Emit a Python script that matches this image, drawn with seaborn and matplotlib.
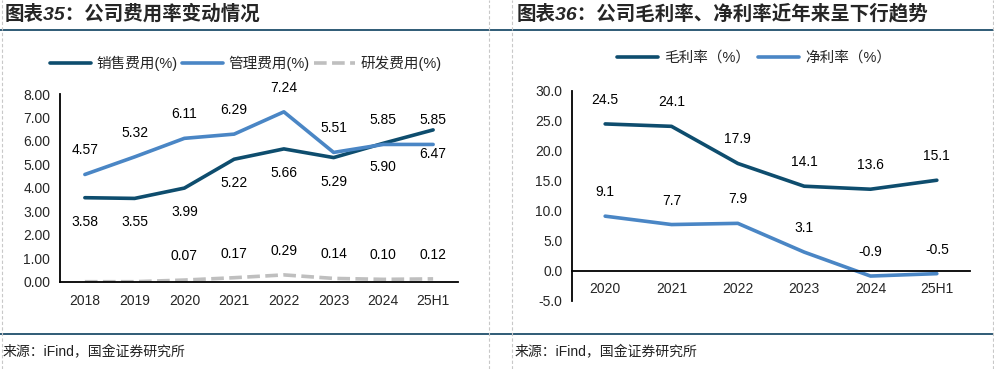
import numpy as np
import matplotlib
matplotlib.use("Agg")
import matplotlib.pyplot as plt
from matplotlib.lines import Line2D
import seaborn as sns

# ============ DATA ============
left_years = ["2018", "2019", "2020", "2021", "2022", "2023", "2024", "25H1"]
sales_exp = [3.58, 3.55, 3.99, 5.22, 5.66, 5.29, 5.90, 6.47]
admin_exp = [4.57, 5.32, 6.11, 6.29, 7.24, 5.51, 5.85, 5.85]
rd_exp = [0.00, 0.00, 0.07, 0.17, 0.29, 0.14, 0.10, 0.12]
rd_labeled = [False, False, True, True, True, True, True, True]

right_years = ["2020", "2021", "2022", "2023", "2024", "25H1"]
gross_margin = [24.5, 24.1, 17.9, 14.1, 13.6, 15.1]
net_margin = [9.1, 7.7, 7.9, 3.1, -0.9, -0.5]

# ============ STYLE ============
sns.set_style("white")
plt.rcParams["font.family"] = ["Liberation Sans", "Noto Sans CJK SC", "DejaVu Sans"]

NAVY = "#0E4D6E"
BLUE = "#4A86C5"
GREY = "#BFBFBF"
LINE_HDR = "#1F4E6B"

W, H = 994, 369
fig = plt.figure(figsize=(W / 100, H / 100), dpi=100)


def fx(px):
    return px / W


def fy(py):
    return 1 - py / H


def style_axis(ax, n, fmt):
    for s in ["top", "right"]:
        ax.spines[s].set_visible(False)
    for s in ["left", "bottom"]:
        ax.spines[s].set_color("black")
        ax.spines[s].set_linewidth(1.3)
    ax.set_xlim(-0.5, n - 0.5)
    ax.set_xticks(np.arange(n))
    ax.set_xticks(np.arange(0.5, n, 1), minor=True)
    ax.tick_params(axis="x", which="major", length=0, pad=9, labelsize=10)
    ax.tick_params(axis="x", which="minor", length=4, width=1.2, direction="in")
    ax.tick_params(axis="y", which="major", length=5, width=1.2, direction="in",
                   pad=7, labelsize=10)
    ax.yaxis.set_major_formatter(matplotlib.ticker.FormatStrFormatter(fmt))
    ax.set_xlabel("")
    ax.set_ylabel("")
    ax.grid(False)
    ax.set_facecolor("none")


def label_points(ax, values, fmt, dy, show=None):
    for i, v in enumerate(values):
        if show is not None and not show[i]:
            continue
        ax.annotate(fmt.format(v), (i, v), xytext=(0, dy), textcoords="offset pixels",
                    ha="center", va="center", fontsize=10, color="black")


# ============ LEFT CHART ============
ax1 = fig.add_axes([fx(60), fy(281.7), fx(398), (281.7 - 94) / H])
x1 = np.arange(len(left_years))
sns.lineplot(x=x1, y=sales_exp, ax=ax1, color=NAVY, linewidth=2.6, label="销售费用(%)")
sns.lineplot(x=x1, y=admin_exp, ax=ax1, color=BLUE, linewidth=2.6, label="管理费用(%)")
sns.lineplot(x=x1, y=rd_exp, ax=ax1, color=GREY, linewidth=2.6, label="研发费用(%)",
             dashes=False, linestyle=(0, (3.5, 1.5)))
ax1.set_ylim(0, 8)
ax1.set_yticks(np.arange(0, 8.01, 1))
style_axis(ax1, len(left_years), "%.2f")
ax1.set_xticklabels(left_years)
label_points(ax1, sales_exp, "{:.2f}", -24)
label_points(ax1, admin_exp, "{:.2f}", 24)
label_points(ax1, rd_exp, "{:.2f}", 24, rd_labeled)
h1, l1 = ax1.get_legend_handles_labels()
ax1.get_legend().remove()
fig.legend(h1, l1, loc="center", bbox_to_anchor=(fx(246), fy(63)), ncol=3, frameon=False,
           fontsize=10.5, handlelength=2.8, handletextpad=0.4, columnspacing=0.3)

# ============ RIGHT CHART ============
ax2 = fig.add_axes([fx(572), fy(300.6), fx(398), (300.6 - 91) / H])
x2 = np.arange(len(right_years))
sns.lineplot(x=x2, y=gross_margin, ax=ax2, color=NAVY, linewidth=2.6, label="毛利率（%）")
sns.lineplot(x=x2, y=net_margin, ax=ax2, color=BLUE, linewidth=2.6, label="净利率（%）")
ax2.set_ylim(-5, 30)
ax2.set_yticks(np.arange(-5, 30.01, 5))
style_axis(ax2, len(right_years), "%.1f")
ax2.spines["bottom"].set_position(("data", 0))
ax2.set_xticklabels(right_years)
ax2.tick_params(axis="x", which="major", pad=8)
label_points(ax2, gross_margin, "{:.1f}", 24)
label_points(ax2, net_margin, "{:.1f}", 24)
h2, l2 = ax2.get_legend_handles_labels()
ax2.get_legend().remove()
fig.legend(h2, l2, loc="center", bbox_to_anchor=(fx(754), fy(58)), ncol=2, frameon=False,
           fontsize=10.5, handlelength=2.8, handletextpad=0.4, columnspacing=0.6)

# ============ FRAME / TITLES ============
for y in [30, 334]:
    fig.add_artist(Line2D([0, 1], [fy(y), fy(y)], color=LINE_HDR, linewidth=1.3))
for x in [1.5, 488.5, 512, 992.5]:
    fig.add_artist(Line2D([fx(x), fx(x)], [0, 1], color="#C8C8C8", linewidth=0.8,
                          linestyle=(0, (3, 2))))

fig.text(fx(5), fy(14), "图表35：公司费用率变动情况", fontsize=14, fontweight="bold",
         style="italic", ha="left", va="center")
fig.text(fx(517), fy(14), "图表36：公司毛利率、净利率近年来呈下行趋势", fontsize=14,
         fontweight="bold", style="italic", ha="left", va="center")
fig.text(fx(3), fy(352), "来源：iFind，国金证券研究所", fontsize=10, color="#222222",
         ha="left", va="center")
fig.text(fx(515), fy(352), "来源：iFind，国金证券研究所", fontsize=10, color="#222222",
         ha="left", va="center")

fig.savefig("out.png", dpi=100)
